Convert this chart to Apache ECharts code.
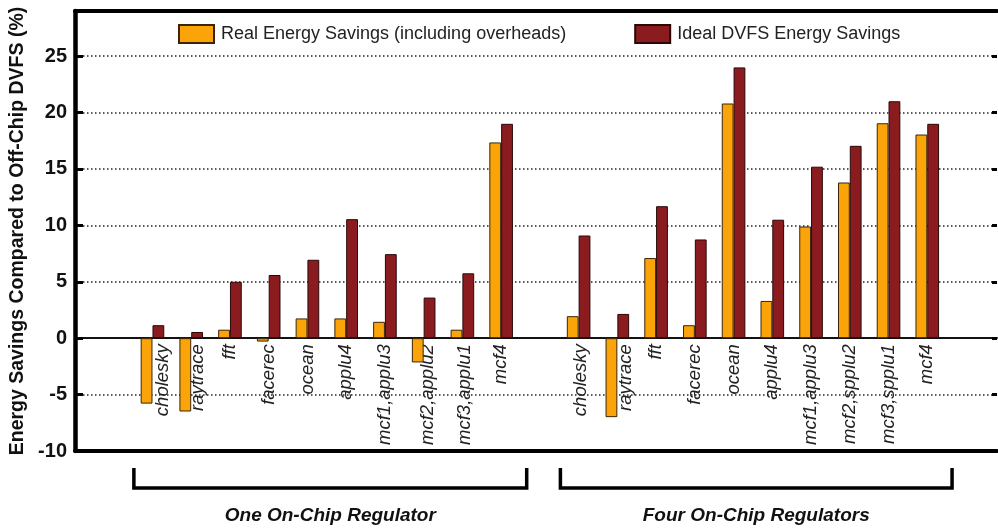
<!DOCTYPE html>
<html>
<head>
<meta charset="utf-8">
<script src="https://cdn.jsdelivr.net/npm/echarts@6/dist/echarts.min.js"></script>
<style>
  html, body { margin: 0; padding: 0; background: #fff; }
  #chart { width: 998px; height: 531px; }
</style>
</head>
<body>
<div id="chart"></div>
<script>
// Benchmarks run with one on-chip regulator and with four on-chip regulators
const categoriesOne = ['cholesky', 'raytrace', 'fft', 'facerec', 'ocean', 'applu4', 'mcf1,applu3', 'mcf2,applu2', 'mcf3,applu1', 'mcf4'];
const categoriesFour = ['cholesky', 'raytrace', 'fft', 'facerec', 'ocean', 'applu4', 'mcf1,applu3', 'mcf2,spplu2', 'mcf3,spplu1', 'mcf4'];

// Energy savings (%) relative to off-chip DVFS
const realOne   = [-5.8, -6.5, 0.75, -0.3, 1.75, 1.75, 1.45, -2.15, 0.75, 17.35];
const idealOne  = [1.15, 0.55, 5.0, 5.6, 6.95, 10.55, 7.45, 3.6, 5.75, 19.0];
const realFour  = [1.95, -7.0, 7.1, 1.15, 20.8, 3.3, 9.9, 13.8, 19.05, 18.05];
const idealFour = [9.1, 2.15, 11.7, 8.75, 24.0, 10.5, 15.2, 17.05, 21.0, 19.0];

const seriesNames = ['Real Energy Savings (including overheads)', 'Ideal DVFS Energy Savings'];
const groupNames = ['One On-Chip Regulator', 'Four On-Chip Regulators'];
const yTicks = [-10, -5, 0, 5, 10, 15, 20, 25];

// Both groups share one numeric x scale; one empty slot separates them.
const groupStart = [0, categoriesOne.length + 1];
const allLabels = {};
categoriesOne.forEach((c, i) => { allLabels[groupStart[0] + i] = c; });
categoriesFour.forEach((c, i) => { allLabels[groupStart[1] + i] = c; });

function pairs(start, values) {
  return values.map((v, i) => [start + i, v]);
}
const realData = pairs(groupStart[0], realOne).concat(pairs(groupStart[1], realFour));
const idealData = pairs(groupStart[0], idealOne).concat(pairs(groupStart[1], idealFour));

// Labels nudged sideways so they clear the negative bars
const labelNudge = { 0: 20, 1: 14, 7: 8, 8: 5, 11: 4, 12: 18 };

const FONT = 'Liberation Sans, Arial, sans-serif';
const LABEL_SIZE = 18.5;
const rich = {};
Object.keys(labelNudge).forEach(k => {
  rich['n' + k] = { padding: [labelNudge[k], 0, 0, 0], fontSize: LABEL_SIZE, fontStyle: 'italic', color: '#222', fontFamily: FONT };
});

const X_MIN = -2, X_MAX = 21.8;
const frameLine = { color: '#000', width: 4 };

const chart = echarts.init(document.getElementById('chart'));

const gridLine = { color: '#222', width: 1.5, type: [1.5, 2.5] };

// Plain axes that only draw the top and bottom edges of the frame
function frameAxis(position) {
  return {
    type: 'value', min: X_MIN, max: X_MAX, position: position,
    axisLine: { show: true, onZero: false, lineStyle: frameLine },
    axisTick: { show: false }, axisLabel: { show: false }, splitLine: { show: false }
  };
}

chart.setOption({
  animation: false,
  textStyle: { fontFamily: FONT },
  legend: {
    left: 178,
    top: 24,
    padding: 0,
    itemGap: 68,
    itemWidth: 35,
    itemHeight: 18,
    icon: 'rect',
    textStyle: { fontSize: 18, color: '#222', padding: [0, 0, 0, 2] },
    data: seriesNames
  },
  grid: {
    left: 75, right: 1, top: 11, bottom: 80,
    containLabel: false,
    outerBoundsMode: 'none'
  },
  xAxis: [{
    type: 'value',
    min: X_MIN,
    max: X_MAX,
    interval: 1,
    splitLine: { show: false },
    axisTick: { show: false },
    axisLine: { show: true, onZero: true, lineStyle: { color: '#111', width: 2, type: [2, 1] } },
    axisLabel: {
      rotate: 90,
      margin: 6,
      fontSize: LABEL_SIZE,
      fontStyle: 'italic',
      color: '#222',
      showMinLabel: true,
      showMaxLabel: true,
      formatter: function (v) {
        const name = allLabels[v];
        if (name === undefined) return '';
        if (labelNudge[v] !== undefined) return '{n' + v + '|' + name + '}';
        return name;
      },
      rich: rich
    }
  }, frameAxis('bottom'), frameAxis('top')],
  yAxis: [{
    type: 'value',
    min: -10,
    max: 29,
    interval: 5,
    name: 'Energy Savings Compared to Off-Chip DVFS (%)',
    nameLocation: 'middle',
    nameGap: 47,
    nameTextStyle: { fontSize: 19.5, fontWeight: 'bold', color: '#111' },
    axisLine: { show: true, onZero: false, lineStyle: { color: '#000', width: 4.5 } },
    axisTick: { show: true, inside: true, length: 8, lineStyle: { color: '#000', width: 3 } },
    axisLabel: {
      margin: 8,
      fontSize: 20,
      fontWeight: 'bold',
      color: '#111',
      formatter: v => (yTicks.indexOf(v) >= 0 ? String(v) : '')
    },
    splitLine: { show: true, lineStyle: gridLine }
  }, {
    type: 'value',
    position: 'right',
    min: -10,
    max: 29,
    interval: 5,
    axisLine: { show: false, onZero: false },
    axisTick: { show: true, inside: true, length: 5, lineStyle: { color: '#000', width: 3 } },
    axisLabel: { show: false },
    splitLine: { show: false }
  }],
  series: [{
    name: seriesNames[0],
    type: 'bar',
    barWidth: 11.8,
    barGap: '0%',
    itemStyle: { color: '#FBA40A', borderColor: '#3a2508', borderWidth: 1 },
    data: realData
  }, {
    name: seriesNames[1],
    type: 'bar',
    barWidth: 11.8,
    barGap: '0%',
    itemStyle: { color: '#8A1C1F', borderColor: '#2a0808', borderWidth: 1 },
    data: idealData
  }]
});

// Benchmark names hang just below the zero line
const zeroY = chart.convertToPixel({ yAxisIndex: 0 }, 0);
const gridBottom = chart.convertToPixel({ yAxisIndex: 0 }, -10);
chart.setOption({ xAxis: [{ axisLabel: { margin: zeroY - gridBottom + 6 } }] });

// Group brackets under the axis, placed through the x scale
const groupSpans = [[-0.48, 9.66], [10.53, 20.64]];
const graphics = [];
groupSpans.forEach((span, i) => {
  const x0 = chart.convertToPixel({ xAxisIndex: 0 }, span[0]);
  const x1 = chart.convertToPixel({ xAxisIndex: 0 }, span[1]);
  const yTop = gridBottom + 17;
  const yBot = gridBottom + 37;
  graphics.push({
    type: 'polyline',
    shape: { points: [[x0, yTop], [x0, yBot], [x1, yBot], [x1, yTop]] },
    style: { stroke: '#000', lineWidth: 3.5, fill: null, lineJoin: 'miter' },
    silent: true
  });
  graphics.push({
    type: 'text',
    x: (x0 + x1) / 2,
    y: gridBottom + 65,
    style: {
      text: groupNames[i],
      fontSize: 19,
      fontWeight: 'bold',
      fontStyle: 'italic',
      fontFamily: FONT,
      fill: '#111',
      align: 'center',
      verticalAlign: 'middle'
    },
    silent: true
  });
});
chart.setOption({ graphic: graphics });
</script>
</body>
</html>
